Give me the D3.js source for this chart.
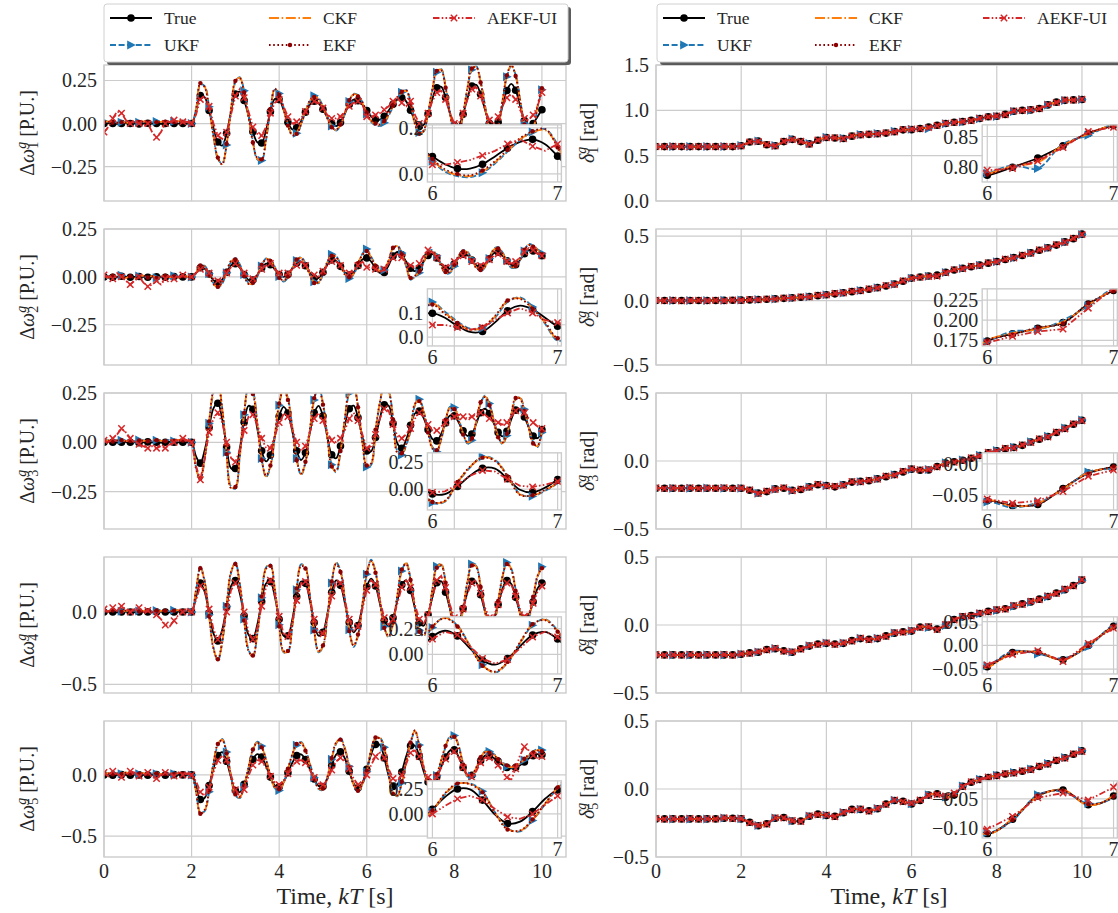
<!DOCTYPE html>
<html>
<head>
<meta charset="utf-8">
<script src="https://cdn.jsdelivr.net/npm/d3@7"></script>
<style>
  body { margin: 0; background: #fff; }
  svg { font-family: "Liberation Serif", "DejaVu Serif", serif; }
</style>
</head>
<body>
<svg width="1118" height="913"></svg>
<script>
// time step of the samples: left column (speed deviation) and right column (rotor angle)
const stepW = 0.1;
const stepD = 0.2;
const xTicks = [0, 2, 4, 6, 8, 10];
const seriesNames = ['True', 'UKF', 'CKF', 'EKF', 'AEKF-UI'];

// ---- Δω^g_1 ----
const trueW1 = [0,.003,0,-.002,0,.002,0,0,-.002,0,.002,0,0,-.002,0,.002,0,0,0,0,
  0,.068,.163,.152,.076,-.026,-.107,-.128,-.057,.069,
  .171,.185,.134,.045,-.048,-.109,-.113,-.039,.069,.143,
  .139,.08,.007,-.034,-.024,.014,.066,.11,.13,.118,
  .083,.037,0,-.015,.006,.057,.111,.139,.133,.109,
  .075,.042,.023,.023,.042,.076,.112,.139,.15,.129,
  .077,.019,-.017,-.008,.056,.144,.208,.214,.151,.058,
  -.01,-.011,.054,.147,.217,.225,.17,.082,.002,-.03,
  .008,.1,.192,.23,.193,.105,.017,-.02,0,.04,.08];
const ukfW1 = [.012,.01,.01,.007,.008,.009,.006,.01,.008,.01,.01,.008,.012,.009,.01,.01,.012,.011,.009,.01,
  0,.075,.225,.218,.098,-.068,-.205,-.232,-.125,.076,
  .24,.27,.19,.048,-.1,-.208,-.215,-.097,.075,.195,
  .175,.095,-.003,-.066,-.056,-.004,.068,.127,.161,.148,
  .1,.036,-.014,-.041,-.013,.055,.128,.173,.166,.125,
  .055,.01,-.01,-.014,.005,.045,.097,.146,.182,.194,
  .128,.006,-.052,-.047,.055,.195,.298,.316,.218,.069,
  -.041,-.052,.051,.2,.312,.334,.248,.107,-.022,-.082,
  -.021,.125,.272,.334,.284,.143,.002,-.066,-.034,.095,.196];
const ckfW1 = [.01,.012,.008,.005,.01,.006,.004,.008,.01,.012,.008,.006,.01,.01,.012,.008,.01,.014,.01,.008,
  0,.079,.231,.213,.092,-.072,-.201,-.235,-.121,.08,
  .244,.266,.184,.042,-.107,-.204,-.211,-.092,.08,.199,
  .17,.09,-.008,-.063,-.05,.001,.072,.131,.158,.142,
  .095,.032,-.018,-.038,-.009,.06,.132,.17,.162,.12,
  .06,.015,-.005,-.01,.01,.05,.1,.15,.18,.19,
  .12,0,-.057,-.043,.06,.2,.303,.312,.212,.063,
  -.046,-.048,.056,.205,.317,.33,.242,.101,-.027,-.078,
  -.017,.13,.277,.338,.279,.138,-.003,-.062,-.03,.1,.2];
const ekfW1 = [.008,.01,.006,.004,.008,.005,.005,.007,.009,.01,.007,.005,.008,.009,.01,.007,.008,.012,.009,.007,
  0,.082,.235,.21,.088,-.076,-.198,-.238,-.118,.084,
  .248,.262,.18,.038,-.11,-.2,-.208,-.088,.084,.203,
  .166,.086,-.012,-.068,-.06,-.005,.068,.135,.155,.138,
  .092,.028,-.022,-.035,-.006,.064,.135,.167,.158,.126,
  .065,.02,0,-.006,.015,.055,.105,.155,.185,.195,
  .115,-.004,-.06,-.04,.064,.204,.306,.309,.208,.06,
  -.049,-.045,.06,.208,.32,.327,.238,.097,-.03,-.075,
  -.014,.134,.28,.341,.276,.134,-.006,-.059,-.027,.104,.205];
const aekfW1 = [-.05,-.02,.03,.07,.06,.02,0,.01,0,-.01,0,-.05,-.08,-.05,0,.01,.02,.01,.01,.01,
  0,.05,.14,.16,.1,0,-.07,-.09,-.05,.05,
  .16,.2,.15,.07,-.02,-.06,-.07,-.02,.06,.12,
  .14,.1,.04,0,.01,.03,.07,.1,.13,.12,
  .09,.05,.03,.03,.04,.07,.1,.12,.13,.11,
  .04,.04,.05,.06,.08,.1,.13,.15,.12,.1,
  .13,.05,0,0,.06,.13,.18,.19,.14,.06,
  0,0,.06,.14,.2,.21,.16,.08,.02,0,
  .04,.1,.15,.17,.14,.08,.03,.02,.05,.1,.18];

// ---- Δω^g_2 ----
const trueW2 = [0,.002,-.002,0,.003,0,-.002,0,.002,0,-.002,.002,0,0,-.002,0,.002,0,0,0,
  0,.02,.048,.043,.015,-.017,-.03,-.014,.024,.06,
  .069,.048,.012,-.016,-.016,.01,.047,.069,.064,.039,
  .012,0,.013,.043,.072,.079,.058,.022,-.006,-.006,
  .024,.064,.089,.083,.055,.023,.01,.024,.059,.091,
  .099,.08,.046,.021,.023,.061,.109,.13,.115,.08,
  .045,.03,.045,.081,.112,.119,.099,.067,.043,.044,
  .068,.101,.119,.113,.088,.061,.05,.064,.095,.123,
  .129,.111,.084,.063,.064,.088,.121,.14,.135,.122,.11];
const ukfW2 = [.003,-.006,.006,-.004,.008,-.004,.002,-.006,.004,.004,-.006,.007,-.005,.001,.006,-.005,.006,-.003,.004,0,
  0,.017,.058,.058,.017,-.033,-.058,-.035,.022,.077,
  .098,.066,.012,-.031,-.038,.001,.057,.097,.09,.053,
  .002,-.024,-.005,.041,.085,.103,.071,.017,-.025,-.033,
  .012,.072,.118,.109,.067,.019,-.009,.012,.065,.121,
  .145,.105,.065,.035,.036,.08,.145,.165,.125,.055,
  -.015,0,.021,.075,.13,.14,.11,.062,.018,.02,
  .056,.105,.14,.131,.094,.053,.029,.05,.096,.146,
  .155,.128,.088,.048,.05,.086,.135,.172,.164,.144,.124];
const ckfW2 = [.005,-.004,.008,-.002,.006,-.006,.004,-.008,.002,.006,-.004,.005,-.007,.003,.008,-.003,.004,-.005,.006,.002,
  0,.02,.062,.055,.013,-.036,-.055,-.031,.026,.08,
  .094,.062,.008,-.034,-.034,.005,.061,.094,.086,.049,
  -.002,-.02,-.001,.045,.088,.099,.067,.013,-.029,-.029,
  .016,.076,.114,.105,.063,.015,-.005,.016,.069,.117,
  .14,.1,.06,.03,.04,.085,.15,.16,.12,.06,
  -.01,.003,.025,.079,.126,.136,.106,.058,.022,.024,
  .06,.109,.136,.127,.09,.049,.033,.054,.1,.142,
  .151,.124,.084,.052,.054,.09,.139,.168,.16,.14,.12];
const ekfW2 = [.004,-.003,.006,-.001,.005,-.005,.003,-.006,.001,.005,-.003,.004,-.005,.002,.006,-.002,.003,-.004,.005,.001,
  0,.022,.06,.052,.011,-.038,-.052,-.028,.029,.083,
  .091,.059,.005,-.037,-.031,.008,.064,.091,.083,.046,
  -.005,-.017,.002,.048,.091,.096,.064,.01,-.032,-.026,
  .019,.079,.111,.102,.06,.012,-.002,.019,.072,.114,
  .135,.095,.058,.032,.043,.088,.152,.158,.118,.062,
  -.005,.006,.028,.082,.123,.133,.103,.055,.025,.027,
  .063,.112,.133,.124,.087,.046,.036,.057,.103,.139,
  .148,.121,.081,.055,.057,.093,.142,.165,.157,.137,.118];
const aekfW2 = [.01,0,-.01,.02,0,-.02,-.04,-.02,0,-.03,-.05,-.04,-.02,-.04,-.01,.01,-.01,0,.01,0,
  0,.02,.04,.05,.02,-.01,-.02,-.02,.02,.05,
  .07,.05,.02,0,-.01,.01,.04,.06,.07,.04,
  .02,.01,.02,.04,.06,.08,.06,.03,.01,0,
  .03,.06,.08,.08,.06,.03,.02,.03,.06,.08,
  .05,.05,.04,.03,.04,.07,.1,.12,.1,.07,
  .06,.05,.07,.11,.14,.13,.1,.07,.05,.06,
  .08,.1,.11,.1,.08,.07,.06,.07,.09,.11,
  .12,.1,.08,.07,.08,.1,.13,.15,.14,.12,.11];

// ---- Δω^g_3 ----
const trueW3 = [0,.002,0,-.002,0,.002,0,0,-.002,0,.002,0,0,-.002,0,.002,0,0,0,0,
  0,-.07,-.106,-.039,.075,.172,.198,.117,-.024,-.132,
  -.133,-.033,.102,.185,.167,.07,-.043,-.097,-.065,.03,
  .132,.18,.148,.056,-.043,-.09,-.053,.048,.149,.185,
  .133,.028,-.063,-.081,-.019,.085,.17,.186,.125,.028,
  -.044,-.045,.024,.121,.19,.186,.095,-.006,-.03,.013,
  .086,.146,.158,.123,.064,.016,.007,.043,.098,.136,
  .134,.1,.058,.032,.042,.094,.15,.17,.146,.097,
  .05,.03,.056,.116,.163,.165,.128,.076,.032,.021,.065];
const ukfW3 = [.01,.008,.007,.012,.01,.008,.006,.006,.012,.01,.004,.008,.01,.01,.008,.012,.006,.01,.012,.006,
  0,-.125,-.192,-.085,.097,.252,.303,.174,-.051,-.224,
  -.235,-.076,.14,.273,.254,.099,-.082,-.177,-.127,.025,
  .188,.274,.224,.077,-.082,-.166,-.108,.054,.215,.282,
  .2,.032,-.114,-.152,-.053,.113,.249,.284,.187,.005,
  -.125,-.115,.055,.195,.295,.265,.125,-.045,-.065,-.015,
  .055,.187,.218,.158,.058,-.024,-.048,.012,.106,.18,
  .177,.119,.048,-.006,.01,.099,.194,.237,.197,.114,
  .034,-.009,.034,.136,.216,.229,.167,.078,.002,-.024,.05];
const ckfW3 = [.008,.01,.005,.01,.012,.006,.008,.004,.01,.008,.006,.01,.012,.008,.006,.01,.008,.012,.01,.008,
  0,-.13,-.188,-.08,.102,.257,.299,.169,-.056,-.229,
  -.231,-.071,.145,.278,.249,.094,-.087,-.173,-.122,.03,
  .193,.27,.219,.072,-.087,-.162,-.103,.059,.22,.278,
  .195,.027,-.119,-.148,-.048,.118,.254,.28,.182,0,
  -.12,-.11,.06,.2,.29,.26,.12,-.05,-.06,-.01,
  .06,.192,.213,.153,.053,-.029,-.044,.017,.111,.175,
  .172,.114,.043,-.002,.015,.104,.199,.233,.192,.109,
  .029,-.005,.039,.141,.221,.225,.162,.073,-.002,-.02,.055];
const ekfW3 = [.006,.009,.004,.008,.01,.005,.007,.003,.009,.007,.005,.009,.01,.007,.005,.009,.007,.01,.009,.007,
  0,-.134,-.184,-.076,.106,.261,.295,.165,-.06,-.233,
  -.227,-.067,.149,.282,.245,.09,-.091,-.169,-.118,.034,
  .197,.266,.215,.068,-.091,-.158,-.099,.063,.224,.274,
  .191,.023,-.123,-.144,-.044,.122,.258,.276,.178,-.004,
  -.118,-.106,.064,.204,.286,.256,.116,-.054,-.056,-.006,
  .064,.196,.209,.149,.049,-.033,-.04,.021,.115,.171,
  .168,.11,.039,.002,.019,.108,.203,.229,.188,.105,
  .025,-.001,.043,.145,.225,.221,.158,.069,-.006,-.016,.059];
const aekfW3 = [.01,0,.02,.04,.07,.05,.02,0,-.01,-.02,-.03,-.02,-.03,-.02,-.03,-.01,0,.01,.02,.01,
  0,-.12,-.19,-.08,.05,.12,.15,.1,0,-.08,
  -.1,-.04,.06,.13,.14,.09,.02,-.03,-.03,.03,
  .1,.14,.13,.07,0,-.04,-.02,.05,.12,.15,
  .11,.05,.01,0,.02,.06,.12,.15,.11,.04,
  -.03,-.02,.04,.12,.17,.16,.09,.03,.02,.04,
  .07,.12,.15,.13,.09,.06,.06,.08,.1,.12,
  .13,.14,.13,.12,.13,.14,.15,.14,.12,.11,
  .1,.09,.1,.13,.16,.17,.15,.12,.1,.08,.07];

// ---- Δω^g_4 ----
const trueW4 = [0,.003,0,-.003,0,.002,0,-.002,0,.003,0,-.002,0,.002,0,-.003,0,.002,0,0,
  0,.1,.2,.139,-.008,-.149,-.2,-.122,.035,.178,
  .218,.129,-.026,-.158,-.184,-.088,.072,.197,.21,.106,
  -.051,-.164,-.164,-.051,.106,.21,.198,.08,-.073,-.164,
  -.14,-.014,.136,.218,.184,.062,-.072,-.14,-.093,.038,
  .174,.23,.18,.058,-.058,-.1,-.041,.079,.188,.218,
  .149,.028,-.075,-.095,-.02,.104,.202,.212,.137,.024,
  -.058,-.058,.024,.137,.212,.204,.119,.01,-.056,-.039,
  .052,.16,.218,.193,.101,.001,-.05,-.018,.07,.162,.2];
const ukfW4 = [.008,.007,.01,.01,.005,.008,.008,.01,.006,.006,.012,.004,.01,.01,.008,.006,.012,.01,.008,.008,
  0,.143,.313,.215,-.02,-.245,-.337,-.212,.039,.268,
  .342,.199,-.049,-.26,-.311,-.158,.098,.308,.329,.163,
  -.089,-.279,-.279,-.099,.153,.329,.31,.121,-.124,-.279,
  -.241,-.039,.201,.342,.287,.092,-.122,-.241,-.166,.044,
  .261,.361,.281,.086,-.1,-.177,-.083,.109,.284,.342,
  .231,.038,-.127,-.169,-.049,.149,.316,.332,.212,.031,
  -.1,-.11,.021,.202,.332,.319,.183,.009,-.097,-.079,
  .066,.239,.342,.302,.155,-.005,-.097,-.046,.095,.242,.313];
const ckfW4 = [.01,.005,.012,.008,.003,.01,.006,.012,.004,.008,.01,.006,.012,.008,.01,.004,.01,.012,.006,.01,
  0,.148,.308,.21,-.025,-.25,-.332,-.207,.044,.273,
  .337,.194,-.054,-.265,-.306,-.153,.103,.303,.324,.158,
  -.094,-.274,-.274,-.094,.158,.324,.305,.116,-.129,-.274,
  -.236,-.034,.206,.337,.282,.087,-.127,-.236,-.161,.049,
  .266,.356,.276,.081,-.105,-.172,-.078,.114,.289,.337,
  .226,.033,-.132,-.164,-.044,.154,.311,.327,.207,.026,
  -.105,-.105,.026,.207,.327,.314,.178,.004,-.102,-.074,
  .071,.244,.337,.297,.15,-.01,-.092,-.041,.1,.247,.308];
const ekfW4 = [.009,.004,.01,.007,.002,.009,.005,.01,.003,.007,.009,.005,.01,.007,.009,.003,.009,.01,.005,.009,
  0,.152,.303,.205,-.03,-.255,-.327,-.202,.049,.278,
  .332,.189,-.059,-.27,-.301,-.148,.108,.298,.319,.153,
  -.099,-.269,-.269,-.089,.163,.319,.3,.111,-.134,-.269,
  -.231,-.029,.211,.332,.277,.082,-.132,-.231,-.156,.054,
  .271,.351,.271,.076,-.11,-.167,-.073,.119,.294,.332,
  .221,.028,-.137,-.159,-.039,.159,.306,.322,.202,.021,
  -.11,-.1,.031,.212,.322,.309,.173,-.001,-.107,-.069,
  .076,.249,.332,.292,.145,-.015,-.087,-.036,.105,.252,.303];
const aekfW4 = [.02,0,.03,.01,.04,.02,0,.02,.03,0,.01,0,-.02,-.05,-.09,-.1,-.06,-.02,0,.02,
  0,.08,.18,.15,.02,-.12,-.19,-.13,0,.15,
  .2,.15,0,-.14,-.19,-.11,.04,.17,.22,.12,
  -.03,-.15,-.17,-.07,.08,.2,.21,.1,-.05,-.15,
  -.15,-.04,.11,.21,.2,.08,-.05,-.13,-.1,.02,
  .15,.22,.19,.08,-.04,-.09,-.05,.06,.17,.22,
  .17,.05,-.05,-.08,-.02,.1,.22,.25,.17,.05,
  -.04,-.05,.02,.13,.2,.21,.13,.03,-.04,-.03,
  .05,.15,.2,.19,.11,.02,-.03,-.01,.06,.14,.18];

// ---- Δω^g_5 ----
const trueW5 = [0,.002,-.002,0,.002,0,-.002,.002,0,0,-.002,0,.002,0,-.002,0,.002,0,0,0,
  0,-.084,-.201,-.187,-.086,.05,.157,.185,.111,-.02,
  -.127,-.141,-.077,.028,.126,.17,.145,.072,-.018,-.085,
  -.098,-.058,.018,.099,.157,.168,.126,.048,-.033,-.09,
  -.094,-.028,.077,.165,.188,.134,.03,-.068,-.107,-.064,
  .045,.168,.249,.245,.138,-.006,-.095,-.077,.023,.151,
  .238,.238,.151,.029,-.058,-.064,-.014,.066,.146,.2,
  .204,.147,.061,-.001,-.003,.047,.116,.157,.156,.138,
  .111,.082,.061,.053,.06,.079,.106,.134,.157,.169,.165];
const ukfW5 = [.012,.01,.008,.014,.01,.016,.012,.008,.01,.012,.01,.012,.01,.008,.012,.01,.01,.012,.012,.01,
  0,-.125,-.307,-.295,-.138,.088,.243,.293,.186,-.004,
  -.169,-.189,-.097,.056,.198,.272,.235,.129,-.011,-.108,
  -.127,-.069,.041,.159,.243,.269,.208,.095,-.023,-.116,
  -.121,-.026,.127,.254,.298,.219,.069,-.074,-.14,-.078,
  .025,.195,.295,.305,.225,.016,-.145,-.175,-.065,.095,
  .255,.355,.244,.067,-.069,-.078,-.005,.111,.227,.315,
  .321,.238,.095,-.015,-.009,.051,.134,.193,.192,.171,
  .138,.103,.068,.059,.067,.09,.122,.156,.193,.208,.203];
const ckfW5 = [.01,.015,.005,.012,.008,.02,.01,.006,.012,.015,.008,.01,.014,.006,.01,.012,.008,.015,.01,.012,
  0,-.13,-.312,-.29,-.133,.093,.248,.288,.181,-.009,
  -.164,-.184,-.092,.061,.203,.267,.23,.124,-.006,-.103,
  -.122,-.064,.046,.164,.248,.264,.203,.09,-.028,-.111,
  -.116,-.021,.132,.259,.293,.214,.064,-.079,-.135,-.073,
  .03,.2,.3,.3,.22,.011,-.15,-.17,-.06,.1,
  .26,.36,.239,.062,-.064,-.073,0,.116,.232,.31,
  .316,.233,.09,-.01,-.004,.056,.139,.188,.187,.166,
  .133,.098,.073,.064,.072,.095,.127,.161,.188,.203,.198];
const ekfW5 = [.008,.013,.004,.01,.007,.018,.009,.005,.01,.013,.007,.009,.012,.005,.009,.01,.007,.013,.009,.01,
  0,-.135,-.317,-.285,-.128,.098,.253,.283,.176,-.014,
  -.159,-.179,-.087,.066,.208,.262,.225,.119,-.001,-.098,
  -.117,-.059,.051,.169,.253,.259,.198,.085,-.033,-.106,
  -.111,-.016,.137,.264,.288,.209,.059,-.084,-.13,-.068,
  .035,.205,.305,.295,.215,.006,-.155,-.165,-.055,.105,
  .265,.365,.234,.057,-.059,-.068,.005,.121,.237,.305,
  .311,.228,.085,-.005,.001,.061,.144,.183,.182,.161,
  .128,.093,.078,.069,.077,.1,.132,.166,.183,.198,.193];
const aekfW5 = [.02,-.01,.03,.01,-.02,0,.03,.02,-.01,0,.02,-.02,-.03,0,.02,.01,-.01,.02,0,.01,
  0,-.05,-.14,-.17,-.1,.02,.12,.16,.12,0,
  -.12,-.18,-.12,-.01,.08,.12,.11,.06,-.01,-.06,
  -.08,-.05,.01,.07,.11,.12,.1,.04,-.02,-.07,
  -.08,-.04,.04,.11,.14,.12,.05,-.03,-.08,-.07,
  0,.08,.15,.18,.14,.05,-.03,-.05,0,.09,
  .18,.2,.15,.06,-.02,-.05,-.02,.06,.13,.18,
  .19,.14,.06,0,-.02,.03,.1,.14,.14,.12,
  .08,.03,-.02,-.04,.05,.16,.23,.2,.16,.14,.15];

// ---- δ^g_1 ----
const trueD1 = [.6,.6,.6,.6,.6,.6,.6,.6,.6,.6,.61,.65,.66,.62,.61,.655,.68,.655,.63,.67,
  .7,.695,.69,.715,.73,.735,.742,.749,.765,.785,.787,.8,.815,.835,.855,.868,.875,.89,.91,.93,
  .935,.955,.99,1,1.005,1.02,1.06,1.09,1.11,1.115,1.12];
const ukfD1 = [.6,.602,.6,.598,.6,.601,.6,.6,.602,.6,.612,.648,.662,.618,.612,.652,.683,.652,.633,.668,
  .703,.693,.692,.712,.733,.733,.745,.747,.768,.782,.79,.803,.798,.838,.852,.87,.872,.893,.908,.932,
  .933,.958,.988,1.003,1.002,1.022,1.058,1.093,1.108,1.117,1.12];
const ckfD1 = [.6,.6,.601,.6,.6,.6,.599,.6,.6,.601,.61,.649,.661,.62,.611,.654,.681,.654,.631,.669,
  .701,.694,.691,.714,.731,.734,.743,.748,.766,.784,.789,.802,.808,.836,.854,.869,.874,.891,.909,.931,
  .934,.956,.989,1.001,1.004,1.021,1.059,1.091,1.109,1.116,1.12];
const ekfD1 = [.6,.6,.6,.6,.601,.6,.6,.6,.6,.6,.611,.651,.659,.621,.61,.656,.679,.656,.629,.671,
  .699,.696,.689,.716,.729,.736,.741,.75,.764,.786,.788,.801,.812,.834,.856,.867,.876,.889,.911,.929,
  .936,.954,.991,.999,1.006,1.019,1.061,1.089,1.111,1.114,1.121];
const aekfD1 = [.6,.598,.603,.6,.597,.602,.6,.598,.603,.6,.607,.652,.657,.623,.606,.658,.677,.659,.627,.673,
  .697,.698,.687,.718,.727,.738,.739,.752,.762,.788,.795,.798,.81,.832,.858,.865,.878,.886,.913,.927,
  .938,.951,.993,.997,1.008,1.017,1.063,1.087,1.113,1.112,1.122];

// ---- δ^g_2 ----
const trueD2 = [0,0,0,0,0,0,0,0,.001,.002,.003,.005,.008,.01,.013,.017,.021,.026,.031,.038,
  .045,.052,.06,.069,.078,.088,.1,.113,.128,.15,.174,.183,.19,.197,.22,.237,.25,.262,.275,.29,
  .303,.318,.333,.35,.37,.39,.41,.43,.455,.48,.515];
const ukfD2 = [0,.001,0,-.001,0,.001,0,0,.002,.001,.004,.004,.009,.011,.012,.018,.02,.027,.03,.039,
  .044,.053,.059,.07,.077,.089,.099,.114,.127,.151,.173,.186,.188,.2,.218,.24,.249,.264,.273,.292,
  .301,.32,.331,.352,.368,.392,.408,.432,.453,.482,.513];
const ckfD2 = [0,0,.001,0,0,0,.001,0,.001,.002,.003,.006,.007,.01,.014,.016,.022,.025,.032,.037,
  .046,.051,.061,.068,.079,.087,.101,.112,.129,.149,.175,.184,.189,.198,.219,.238,.249,.263,.274,.291,
  .302,.319,.332,.351,.369,.391,.409,.431,.454,.481,.514];
const ekfD2 = [0,0,0,.001,0,0,0,.001,.001,.002,.004,.005,.008,.009,.013,.017,.021,.026,.03,.038,
  .045,.053,.06,.069,.078,.088,.1,.112,.128,.15,.175,.182,.191,.196,.221,.236,.251,.262,.276,.289,
  .304,.317,.334,.349,.371,.389,.411,.429,.456,.479,.516];
const aekfD2 = [.003,-.002,.002,-.003,.001,.003,-.002,.002,-.001,.004,.001,.008,.006,.013,.011,.02,.019,.029,.028,.041,
  .043,.056,.058,.072,.075,.092,.097,.117,.125,.153,.172,.18,.186,.189,.215,.24,.247,.266,.272,.294,
  .3,.322,.33,.354,.367,.394,.407,.434,.452,.484,.512];

// ---- δ^g_3 ----
const trueD3 = [-.2,-.2,-.2,-.2,-.2,-.2,-.2,-.2,-.2,-.2,-.2,-.215,-.235,-.225,-.205,-.2,-.215,-.21,-.19,-.175,
  -.18,-.19,-.175,-.155,-.15,-.145,-.13,-.115,-.1,-.08,-.06,-.068,-.066,-.04,-.015,-.005,.005,.02,.04,.06,
  .075,.09,.1,.115,.14,.16,.18,.21,.24,.27,.3];
const ukfD3 = [-.2,-.199,-.201,-.2,-.2,-.201,-.199,-.2,-.2,-.2,-.2,-.214,-.237,-.223,-.207,-.198,-.217,-.208,-.192,-.173,
  -.182,-.188,-.177,-.153,-.152,-.143,-.132,-.113,-.102,-.078,-.062,-.071,-.063,-.042,-.013,-.007,.007,.018,.042,.058,
  .077,.088,.102,.113,.142,.158,.182,.208,.242,.268,.302];
const ckfD3 = [-.2,-.2,-.2,-.201,-.2,-.2,-.2,-.199,-.2,-.2,-.2,-.216,-.234,-.226,-.204,-.201,-.214,-.211,-.189,-.176,
  -.179,-.191,-.174,-.156,-.149,-.146,-.129,-.116,-.099,-.081,-.059,-.069,-.064,-.041,-.014,-.006,.006,.019,.041,.059,
  .076,.089,.101,.114,.141,.159,.181,.209,.241,.269,.301];
const ekfD3 = [-.2,-.2,-.2,-.2,-.199,-.2,-.2,-.2,-.201,-.2,-.2,-.215,-.236,-.224,-.206,-.199,-.216,-.209,-.191,-.174,
  -.181,-.189,-.176,-.154,-.151,-.144,-.131,-.114,-.101,-.079,-.061,-.067,-.066,-.039,-.016,-.004,.004,.021,.039,.061,
  .074,.091,.099,.116,.139,.161,.179,.211,.239,.271,.299];
const aekfD3 = [-.197,-.203,-.198,-.202,-.197,-.203,-.199,-.201,-.197,-.203,-.199,-.212,-.239,-.221,-.209,-.196,-.219,-.206,-.194,-.171,
  -.184,-.186,-.179,-.151,-.154,-.141,-.134,-.111,-.104,-.076,-.057,-.064,-.06,-.045,-.02,-.01,0,.024,.036,.064,
  .071,.094,.096,.119,.136,.164,.176,.214,.236,.274,.296];

// ---- δ^g_4 ----
const trueD4 = [-.22,-.22,-.22,-.22,-.22,-.22,-.22,-.22,-.22,-.22,-.215,-.205,-.2,-.18,-.175,-.19,-.2,-.175,-.155,-.14,
  -.135,-.14,-.135,-.115,-.1,-.105,-.1,-.08,-.06,-.05,-.045,-.015,-.015,-.03,0,.04,.06,.07,.085,.1,
  .11,.12,.14,.155,.17,.19,.21,.235,.26,.29,.33];
const ukfD4 = [-.22,-.219,-.221,-.22,-.22,-.221,-.219,-.22,-.22,-.22,-.214,-.207,-.198,-.182,-.173,-.192,-.198,-.177,-.153,-.142,
  -.133,-.142,-.133,-.117,-.098,-.107,-.098,-.082,-.058,-.052,-.043,-.012,-.018,-.027,-.003,.043,.057,.073,.082,.103,
  .107,.123,.137,.158,.167,.193,.207,.238,.257,.293,.328];
const ckfD4 = [-.22,-.22,-.22,-.221,-.22,-.22,-.22,-.219,-.22,-.22,-.216,-.204,-.201,-.179,-.176,-.189,-.201,-.174,-.156,-.139,
  -.136,-.139,-.136,-.114,-.101,-.104,-.101,-.079,-.061,-.049,-.046,-.016,-.014,-.031,.001,.039,.061,.069,.086,.099,
  .111,.119,.141,.154,.171,.189,.211,.234,.261,.289,.331];
const ekfD4 = [-.22,-.22,-.22,-.22,-.219,-.22,-.22,-.22,-.221,-.22,-.215,-.206,-.199,-.181,-.174,-.191,-.199,-.176,-.154,-.141,
  -.134,-.141,-.134,-.116,-.099,-.106,-.099,-.081,-.059,-.051,-.044,-.014,-.016,-.029,-.001,.041,.059,.071,.084,.101,
  .109,.121,.139,.156,.169,.191,.209,.236,.259,.291,.329];
const aekfD4 = [-.217,-.223,-.218,-.222,-.217,-.223,-.219,-.221,-.217,-.223,-.212,-.209,-.196,-.184,-.171,-.194,-.196,-.179,-.151,-.144,
  -.131,-.144,-.131,-.119,-.096,-.109,-.096,-.084,-.056,-.054,-.041,-.019,-.011,-.034,.004,.036,.064,.066,.089,.096,
  .114,.116,.144,.151,.174,.186,.214,.231,.264,.286,.334];

// ---- δ^g_5 ----
const trueD5 = [-.22,-.22,-.22,-.22,-.22,-.22,-.22,-.22,-.215,-.215,-.22,-.245,-.27,-.255,-.215,-.21,-.235,-.235,-.2,-.185,
  -.195,-.2,-.175,-.15,-.15,-.16,-.145,-.11,-.085,-.09,-.11,-.085,-.045,-.035,-.06,-.045,.02,.05,.07,.085,
  .1,.11,.12,.13,.145,.165,.185,.21,.23,.255,.28];
const ukfD5 = [-.22,-.219,-.221,-.22,-.22,-.219,-.221,-.22,-.213,-.216,-.219,-.247,-.268,-.257,-.213,-.212,-.233,-.237,-.198,-.187,
  -.193,-.202,-.173,-.152,-.148,-.162,-.143,-.112,-.083,-.092,-.108,-.087,-.043,-.037,-.058,-.047,.022,.048,.072,.083,
  .102,.108,.122,.128,.147,.163,.187,.208,.232,.253,.282];
const ckfD5 = [-.22,-.22,-.22,-.221,-.22,-.22,-.22,-.219,-.216,-.215,-.221,-.244,-.271,-.254,-.216,-.209,-.236,-.234,-.201,-.184,
  -.196,-.199,-.176,-.149,-.151,-.159,-.146,-.109,-.086,-.089,-.111,-.084,-.046,-.034,-.061,-.044,.019,.051,.069,.086,
  .099,.111,.119,.131,.144,.166,.184,.211,.229,.256,.279];
const ekfD5 = [-.22,-.22,-.22,-.22,-.219,-.22,-.22,-.22,-.215,-.214,-.22,-.246,-.269,-.256,-.214,-.211,-.234,-.236,-.199,-.186,
  -.194,-.201,-.174,-.151,-.149,-.161,-.144,-.111,-.084,-.091,-.109,-.086,-.044,-.036,-.059,-.046,.021,.049,.071,.084,
  .101,.109,.121,.129,.146,.164,.186,.209,.231,.254,.281];
const aekfD5 = [-.217,-.223,-.218,-.222,-.217,-.223,-.219,-.221,-.212,-.218,-.217,-.249,-.266,-.259,-.211,-.214,-.231,-.239,-.196,-.189,
  -.191,-.204,-.171,-.154,-.146,-.164,-.141,-.114,-.081,-.094,-.102,-.08,-.048,-.04,-.052,-.03,.016,.054,.066,.089,
  .096,.114,.116,.134,.141,.169,.181,.214,.226,.259,.276];

// ---------------------------------------------------------------------------
const svg = d3.select('svg');
const ink = '#262626';
const gridCol = '#cccccc';
const colors = ['#000000', '#1f77b4', '#ff7f0e', '#8b0000', '#d62728'];
const dashes = [null, '6,2.6', '10,2.6,1.6,2.6', '1.6,2.6', '6.5,2.2,1.6,2.2,1.6,2.2'];

const circ = r => `M${r},0A${r},${r},0,1,1,${-r},0A${r},${r},0,1,1,${r},0Z`;
const markers = [circ(3.8), 'M-3.8,-4.5L4.8,0L-3.8,4.5Z', null, circ(2.2), 'M-3.2,-3.2L3.2,3.2M-3.2,3.2L3.2,-3.2'];

const rowTop = [65, 229, 393, 557, 721];
const rowH = 136;
const cols = [
  { x0: 104, x1: 566, dom: [0, 10.55], step: stepW, every: [2, 4, 0, 2, 2] },
  { x0: 656, x1: 1122, dom: [0, 10.94], step: stepD, every: [1, 2, 0, 1, 1] }
];

const leftRows = [
  { data: [trueW1, ukfW1, ckfW1, ekfW1, aekfW1], dom: [-0.45, 0.34], ticks: [-0.25, 0, 0.25], fmt: '.2f',
    inDom: [-0.035, 0.213], inTicks: [0, 0.2], inFmt: '.1f' },
  { data: [trueW2, ukfW2, ckfW2, ekfW2, aekfW2], dom: [-0.46, 0.25], ticks: [-0.25, 0, 0.25], fmt: '.2f',
    inDom: [-0.037, 0.2], inTicks: [0, 0.1], inFmt: '.1f' },
  { data: [trueW3, ukfW3, ckfW3, ekfW3, aekfW3], dom: [-0.44, 0.25], ticks: [-0.25, 0, 0.25], fmt: '.2f',
    inDom: [-0.19, 0.33], inTicks: [0, 0.25], inFmt: '.2f' },
  { data: [trueW4, ukfW4, ckfW4, ekfW4, aekfW4], dom: [-0.56, 0.38], ticks: [-0.5, 0], fmt: '.1f',
    inDom: [-0.19, 0.365], inTicks: [0, 0.25], inFmt: '.2f' },
  { data: [trueW5, ukfW5, ckfW5, ekfW5, aekfW5], dom: [-0.67, 0.44], ticks: [-0.5, 0], fmt: '.1f',
    inDom: [-0.24, 0.33], inTicks: [0, 0.25], inFmt: '.2f' }
];
const rightRows = [
  { data: [trueD1, ukfD1, ckfD1, ekfD1, aekfD1], dom: [0, 1.5], ticks: [0, 0.5, 1, 1.5], fmt: '.1f',
    inDom: [0.776, 0.869], inTicks: [0.8, 0.85], inFmt: '.2f' },
  { data: [trueD2, ukfD2, ckfD2, ekfD2, aekfD2], dom: [-0.5, 0.555], ticks: [-0.5, 0, 0.5], fmt: '.1f',
    inDom: [0.168, 0.239], inTicks: [0.175, 0.2, 0.225], inFmt: '.3f' },
  { data: [trueD3, ukfD3, ckfD3, ekfD3, aekfD3], dom: [-0.5, 0.5], ticks: [-0.5, 0, 0.5], fmt: '.1f',
    inDom: [-0.075, 0.018], inTicks: [-0.05, 0], inFmt: '.2f' },
  { data: [trueD4, ukfD4, ckfD4, ekfD4, aekfD4], dom: [-0.5, 0.5], ticks: [-0.5, 0, 0.5], fmt: '.1f',
    inDom: [-0.06, 0.06], inTicks: [-0.05, 0, 0.05], inFmt: '.2f' },
  { data: [trueD5, ukfD5, ckfD5, ekfD5, aekfD5], dom: [-0.5, 0.5], ticks: [-0.5, 0, 0.5], fmt: '.1f',
    inDom: [-0.117, -0.019], inTicks: [-0.1, -0.05], inFmt: '.2f' }
];

let clipId = 0;
function clipRect(x, y, w, h) {
  const id = 'clip' + (clipId++);
  svg.append('clipPath').attr('id', id).append('rect')
    .attr('x', x).attr('y', y).attr('width', w).attr('height', h);
  return `url(#${id})`;
}

function drawSeries(g, set, x, y, col) {
  set.forEach((vals, k) => {
    const pts = vals.map((v, i) => [x(i * col.step), y(v)]);
    const curve = k === 4 ? d3.curveLinear : d3.curveCatmullRom;
    g.append('path')
      .attr('d', d3.line().curve(curve)(pts))
      .attr('fill', 'none')
      .attr('stroke', colors[k])
      .attr('stroke-width', 1.8)
      .attr('stroke-dasharray', dashes[k]);
    const ev = col.every[k];
    if (!ev) return;
    g.selectAll(null)
      .data(pts.filter((p, i) => i % ev === 0))
      .join('path')
      .attr('transform', d => `translate(${d[0]},${d[1]})`)
      .attr('d', markers[k])
      .attr('fill', k === 4 ? 'none' : colors[k])
      .attr('stroke', k === 4 ? colors[k] : 'none')
      .attr('stroke-width', 1.5);
  });
}

function panel(ci, ri, cfg) {
  const col = cols[ci];
  const top = rowTop[ri], bot = top + rowH;
  const W = col.x1 - col.x0;
  const x = d3.scaleLinear().domain(col.dom).range([col.x0, col.x1]);
  const y = d3.scaleLinear().domain(cfg.dom).range([bot, top]);
  const g = svg.append('g');

  g.append('rect').attr('x', col.x0).attr('y', top).attr('width', W).attr('height', rowH).attr('fill', '#fff');
  g.selectAll(null).data(xTicks).join('line')
    .attr('x1', d => x(d)).attr('x2', d => x(d)).attr('y1', top).attr('y2', bot)
    .attr('stroke', gridCol).attr('stroke-width', 1.2);
  g.selectAll(null).data(cfg.ticks).join('line')
    .attr('x1', col.x0).attr('x2', col.x1).attr('y1', d => y(d)).attr('y2', d => y(d))
    .attr('stroke', gridCol).attr('stroke-width', 1.2);

  const plot = g.append('g').attr('clip-path', clipRect(col.x0, top, W, rowH));
  drawSeries(plot, cfg.data, x, y, col);

  g.append('rect').attr('x', col.x0).attr('y', top).attr('width', W).attr('height', rowH)
    .attr('fill', 'none').attr('stroke', gridCol).attr('stroke-width', 1.4);

  const fmt = d3.format(cfg.fmt);
  g.selectAll(null).data(cfg.ticks).join('text')
    .attr('x', col.x0 - 7).attr('y', d => y(d)).attr('dy', '0.35em')
    .attr('text-anchor', 'end').attr('font-size', 20).attr('fill', ink)
    .text(d => fmt(d));

  if (ri === 4) {
    g.selectAll(null).data(xTicks).join('text')
      .attr('x', d => x(d)).attr('y', bot + 21)
      .attr('text-anchor', 'middle').attr('font-size', 20).attr('fill', ink)
      .text(d => d);
  }

  // zoomed inset over 6 s .. 7 s
  const ix = col.x0 + 0.70 * W, iw = 0.29 * W;
  const iy = top + 0.44 * rowH, ih = 0.42 * rowH;
  const xi = d3.scaleLinear().domain([5.96, 7.03]).range([ix, ix + iw]);
  const yi = d3.scaleLinear().domain(cfg.inDom).range([iy + ih, iy]);
  const gi = svg.append('g');
  gi.append('rect').attr('x', ix).attr('y', iy).attr('width', iw).attr('height', ih).attr('fill', '#fff');
  gi.selectAll(null).data([x(8), x(10), xi(6), xi(7)]).join('line')
    .attr('x1', d => d).attr('x2', d => d).attr('y1', iy).attr('y2', iy + ih)
    .attr('stroke', gridCol).attr('stroke-width', 1.2);
  gi.selectAll(null).data(cfg.inTicks).join('line')
    .attr('x1', ix).attr('x2', ix + iw).attr('y1', d => yi(d)).attr('y2', d => yi(d))
    .attr('stroke', gridCol).attr('stroke-width', 1.2);
  const iplot = gi.append('g').attr('clip-path', clipRect(ix, iy, iw, ih));
  drawSeries(iplot, cfg.data, xi, yi, col);
  gi.append('rect').attr('x', ix).attr('y', iy).attr('width', iw).attr('height', ih)
    .attr('fill', 'none').attr('stroke', gridCol).attr('stroke-width', 1.4);

  const ifmt = d3.format(cfg.inFmt);
  gi.selectAll(null).data(cfg.inTicks).join('text')
    .attr('x', ix - 4).attr('y', d => yi(d)).attr('dy', '0.35em')
    .attr('text-anchor', 'end').attr('font-size', 20).attr('fill', ink)
    .text(d => ifmt(d));
  gi.selectAll(null).data([6, 7]).join('text')
    .attr('x', d => xi(d)).attr('y', iy + ih + 18)
    .attr('text-anchor', 'middle').attr('font-size', 20).attr('fill', ink)
    .text(d => d);

  // y label
  const lx = ci === 0 ? 34 : 594;
  const t = svg.append('text')
    .attr('transform', `translate(${lx},${(top + bot) / 2}) rotate(-90)`)
    .attr('text-anchor', 'middle').attr('font-size', 20).attr('fill', ink);
  if (ci === 0) {
    t.append('tspan').text('Δ');
    t.append('tspan').attr('font-style', 'italic').text('ω');
  } else {
    t.append('tspan').attr('font-style', 'italic').text('δ');
  }
  t.append('tspan').attr('font-size', 14).attr('dy', 4).text(ri + 1);
  t.append('tspan').attr('font-size', 14).attr('font-style', 'italic').attr('dx', -7).attr('dy', -12).text('g');
  t.append('tspan').attr('dy', 8).text(ci === 0 ? ' [P.U.]' : ' [rad]');
}

leftRows.forEach((cfg, i) => panel(0, i, cfg));
rightRows.forEach((cfg, i) => panel(1, i, cfg));

// x labels
cols.forEach(col => {
  const t = svg.append('text')
    .attr('x', (col.x0 + col.x1) / 2).attr('y', 904)
    .attr('text-anchor', 'middle').attr('font-size', 24).attr('fill', ink);
  t.append('tspan').text('Time, ');
  t.append('tspan').attr('font-style', 'italic').text('kT');
  t.append('tspan').text(' [s]');
});

// legends
function legend(x0, w, colX) {
  const g = svg.append('g');
  g.append('rect').attr('x', x0 + 3).attr('y', 7).attr('width', w).attr('height', 58)
    .attr('rx', 3).attr('fill', '#4a4a4a').attr('opacity', 0.9);
  g.append('rect').attr('x', x0).attr('y', 4).attr('width', w).attr('height', 58)
    .attr('rx', 3).attr('fill', '#fff').attr('stroke', '#d0d0d0').attr('stroke-width', 1);
  const slots = [[0, 0], [0, 1], [1, 0], [1, 1], [2, 0]];
  seriesNames.forEach((name, k) => {
    const hx = x0 + colX[slots[k][0]];
    const hy = 18 + slots[k][1] * 27;
    g.append('line').attr('x1', hx).attr('x2', hx + 42).attr('y1', hy).attr('y2', hy)
      .attr('stroke', colors[k]).attr('stroke-width', 1.8).attr('stroke-dasharray', dashes[k]);
    if (markers[k]) {
      g.append('path').attr('transform', `translate(${hx + 21},${hy})`).attr('d', markers[k])
        .attr('fill', k === 4 ? 'none' : colors[k])
        .attr('stroke', k === 4 ? colors[k] : 'none').attr('stroke-width', 1.5);
    }
    g.append('text').attr('x', hx + 54).attr('y', hy + 6)
      .attr('font-size', 17.5).attr('fill', ink).text(name);
  });
}
legend(104, 464, [6, 165, 329]);
legend(657, 465, [6, 158, 326]);
</script>
</body>
</html>
